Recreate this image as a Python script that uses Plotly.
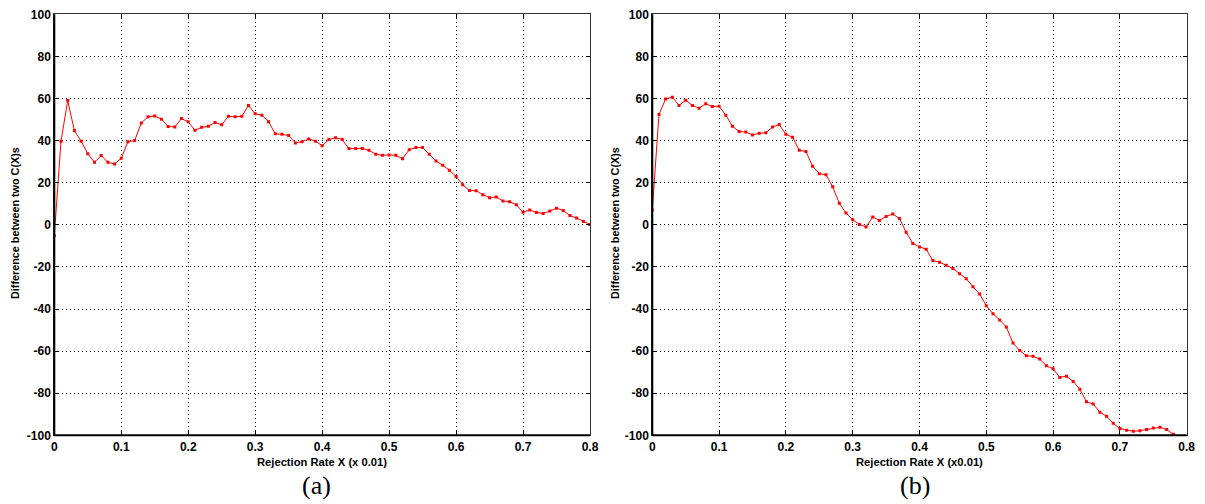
import plotly.graph_objects as go

# ---------------- data ----------------
rate_x = [0.00, 0.01, 0.02, 0.03, 0.04, 0.05, 0.06, 0.07, 0.08, 0.09,
          0.10, 0.11, 0.12, 0.13, 0.14, 0.15, 0.16, 0.17, 0.18, 0.19,
          0.20, 0.21, 0.22, 0.23, 0.24, 0.25, 0.26, 0.27, 0.28, 0.29,
          0.30, 0.31, 0.32, 0.33, 0.34, 0.35, 0.36, 0.37, 0.38, 0.39,
          0.40, 0.41, 0.42, 0.43, 0.44, 0.45, 0.46, 0.47, 0.48, 0.49,
          0.50, 0.51, 0.52, 0.53, 0.54, 0.55, 0.56, 0.57, 0.58, 0.59,
          0.60, 0.61, 0.62, 0.63, 0.64, 0.65, 0.66, 0.67, 0.68, 0.69,
          0.70, 0.71, 0.72, 0.73, 0.74, 0.75, 0.76, 0.77, 0.78, 0.79,
          0.80]

diff_a = [-5.2, 39.7, 59.0, 44.8, 39.7, 33.8, 29.7, 32.9, 29.7, 28.9,
          31.6, 39.5, 40.0, 48.4, 51.3, 51.7, 50.2, 46.7, 46.5, 50.5,
          48.9, 44.9, 46.3, 46.8, 48.6, 47.5, 51.6, 51.3, 51.6, 56.7,
          52.7, 52.1, 49.0, 43.2, 43.0, 42.4, 38.9, 39.5, 40.8, 39.7,
          37.6, 40.5, 41.4, 40.5, 36.2, 36.2, 36.2, 35.4, 33.5, 33.0,
          33.2, 33.0, 31.4, 35.7, 36.7, 36.7, 33.5, 30.3, 28.3, 25.9,
          23.0, 19.0, 16.3, 16.2, 14.3, 12.9, 13.2, 11.3, 11.0, 9.5,
          6.0, 7.0, 5.9, 5.4, 6.5, 7.9, 6.8, 4.4, 3.2, 1.6,
          0.2]

diff_b = [7.1, 52.4, 59.8, 60.6, 56.7, 59.2, 56.7, 55.4, 57.5, 56.2,
          56.3, 52.1, 46.8, 44.3, 44.1, 42.7, 43.5, 43.7, 46.5, 47.6,
          43.0, 41.6, 35.4, 34.8, 27.8, 24.3, 23.8, 18.1, 10.2, 5.6,
          2.4, 0.2, -1.0, 3.7, 2.1, 4.0, 5.1, 3.0, -3.5, -8.9,
          -10.5, -11.6, -17.0, -17.8, -19.2, -20.8, -23.2, -25.6, -29.4, -32.9,
          -38.4, -42.2, -45.2, -48.6, -56.2, -59.7, -62.2, -62.5, -63.8, -67.0,
          -68.4, -72.5, -71.9, -74.4, -78.1, -84.1, -85.1, -89.0, -90.9, -94.3,
          -96.8, -97.6, -98.1, -97.8, -97.3, -96.5, -96.2, -97.3, -99.5, -102.0,
          -104.0]

x_ticks = [0, 0.1, 0.2, 0.3, 0.4, 0.5, 0.6, 0.7, 0.8]
x_tick_labels = ["0", "0.1", "0.2", "0.3", "0.4", "0.5", "0.6", "0.7", "0.8"]
y_ticks = [-100, -80, -60, -40, -20, 0, 20, 40, 60, 80, 100]
y_tick_labels = ["-100", "-80", "-60", "-40", "-20", "0", "20", "40", "60", "80", "100"]

x_title_a = "Rejection Rate X (x 0.01)"
x_title_b = "Rejection Rate X (x0.01)"
y_title = "Difference between two C(X)s"
captions = ["(a)", "(b)"]

# ---------------- figure ----------------
# the page body has an 8px margin, so the figure is placed at (8, 8)
OFF = 8
W, H = 1205 - OFF, 504 - OFF

def px_x(v):
    return (v - OFF) / W

def px_y(v):
    return 1 - (v - OFF) / H

fig = go.Figure()

line_style = dict(color="#ff0000", width=1)
marker_style = dict(color="#ff0000", size=3, symbol="square")

fig.add_trace(go.Scatter(x=rate_x, y=diff_a, mode="lines+markers",
                         line=line_style, marker=marker_style,
                         xaxis="x", yaxis="y", showlegend=False))
fig.add_trace(go.Scatter(x=rate_x, y=diff_b, mode="lines+markers",
                         line=line_style, marker=marker_style,
                         xaxis="x2", yaxis="y2", showlegend=False))

FONT = "Liberation Sans, Arial, Helvetica, sans-serif"
tick_font = dict(family=FONT, size=12, color="black")
title_font = dict(family=FONT, size=11.2, color="black")
ytitle_font = dict(family=FONT, size=10.8, color="black")

def bold(s):
    return "<b>" + s + "</b>"

ydom = [px_y(435.3), px_y(14.3)]
dom_a = [px_x(54.3), px_x(590.0)]
dom_b = [px_x(652.3), px_x(1186.7)]

common_x = dict(range=[0, 0.8], tickvals=x_ticks, ticktext=[bold(t) for t in x_tick_labels],
                showgrid=True, gridcolor="black", griddash="1px,3px", gridwidth=1,
                zeroline=False, showline=True, linecolor="#333333", linewidth=1,
                mirror="ticks", ticks="inside", ticklen=4, tickcolor="black",
                tickfont=tick_font, automargin=False, ticklabeloverflow="allow")
common_y = dict(range=[-100, 100], tickvals=y_ticks, ticktext=[bold(t) for t in y_tick_labels],
                showgrid=True, gridcolor="black", griddash="1px,3px", gridwidth=1,
                zeroline=False, showline=True, linecolor="#333333", linewidth=1,
                mirror="ticks", ticks="inside", ticklen=4, tickcolor="black",
                tickfont=tick_font, automargin=False, ticklabeloverflow="allow")

fig.update_layout(
    width=W, height=H,
    margin=dict(l=0, r=0, t=0, b=0),
    paper_bgcolor="white", plot_bgcolor="white",
    xaxis=dict(domain=dom_a, anchor="y", **common_x),
    yaxis=dict(domain=ydom, anchor="x", **common_y),
    xaxis2=dict(domain=dom_b, anchor="y2", **common_x),
    yaxis2=dict(domain=ydom, anchor="x2", **common_y),
)

# thicker left and bottom axis lines
for xr, yr in [("x", "y"), ("x2", "y2")]:
    fig.add_shape(type="line", xref=f"{xr} domain", yref=f"{yr} domain",
                  x0=0, x1=0, y0=0, y1=1, line=dict(color="black", width=2))
    fig.add_shape(type="line", xref=f"{xr} domain", yref=f"{yr} domain",
                  x0=0, x1=1, y0=0, y1=0, line=dict(color="black", width=2))

# axis titles
for xt, cx in [(x_title_a, 322.0), (x_title_b, 919.5)]:
    fig.add_annotation(text=bold(xt), x=px_x(cx), y=px_y(461.5), xref="paper", yref="paper",
                       showarrow=False, font=title_font, xanchor="center", yanchor="middle")
for cx in [15.0, 615.0]:
    fig.add_annotation(text=bold(y_title), x=px_x(cx), y=px_y(223), xref="paper", yref="paper",
                       showarrow=False, font=ytitle_font, textangle=-90,
                       xanchor="center", yanchor="middle")

# sub-figure captions
cap_font = dict(family="Liberation Serif, Times New Roman, serif", size=26, color="black")
for cap, cx in zip(captions, [316.0, 915.0]):
    fig.add_annotation(text=cap, x=px_x(cx), y=px_y(485), xref="paper", yref="paper",
                       showarrow=False, font=cap_font, xanchor="center", yanchor="middle")

fig.write_html("out.html")
